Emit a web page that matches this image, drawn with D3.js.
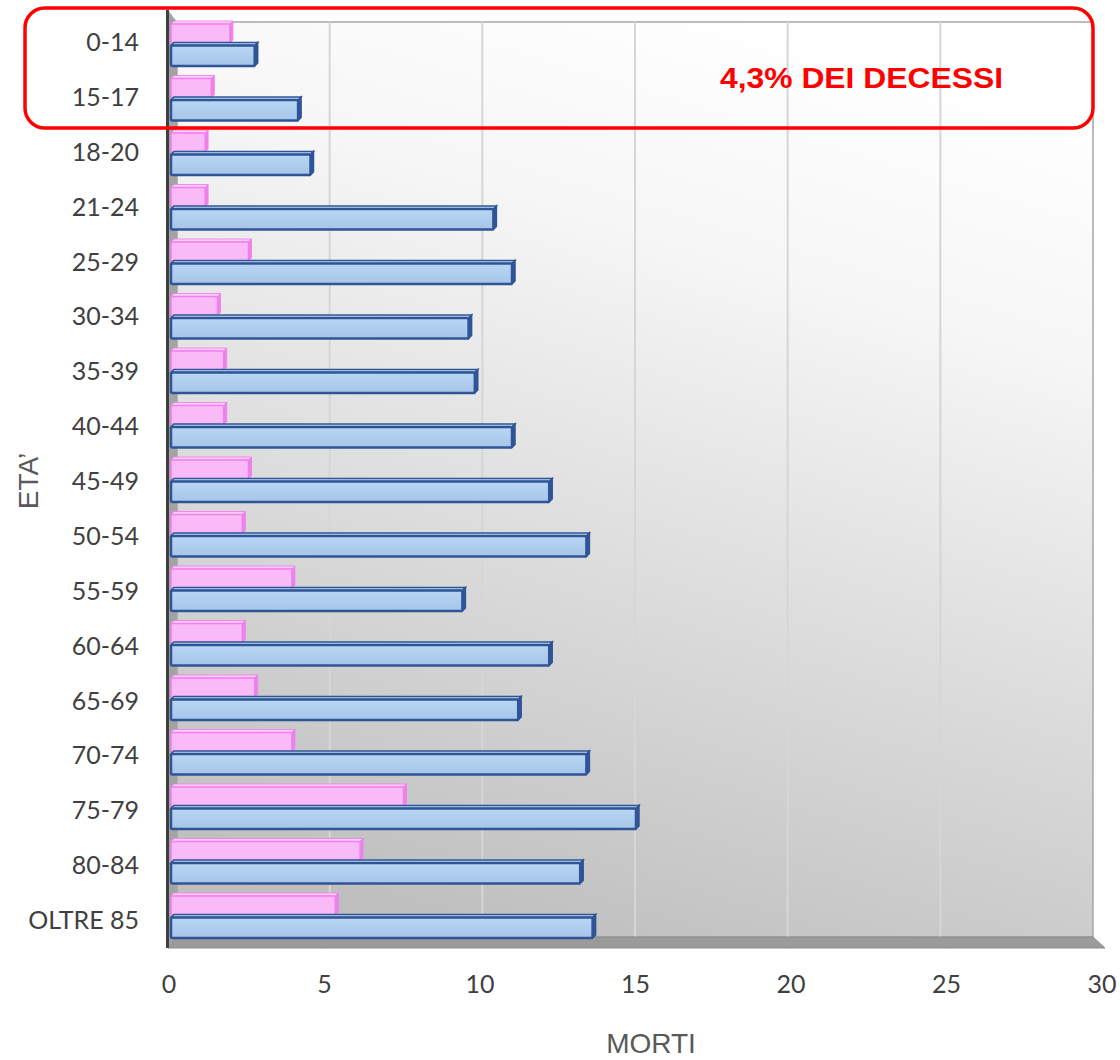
<!DOCTYPE html>
<html>
<head>
<meta charset="utf-8">
<script src="https://cdn.jsdelivr.net/npm/d3@7"></script>
<style>
    body { margin: 0; background: #fff; }
</style>
</head>
<body>
<svg id="chart" width="1120" height="1060"></svg>
<script>
    // age groups (ETA') and deaths (MORTI)
    let categories = ["0-14", "15-17", "18-20", "21-24", "25-29", "30-34", "35-39", "40-44",
        "45-49", "50-54", "55-59", "60-64", "65-69", "70-74", "75-79", "80-84", "OLTRE 85"];
    let femmine = [1.9, 1.3, 1.1, 1.1, 2.5, 1.5, 1.7, 1.7, 2.5, 2.3, 3.9, 2.3, 2.7, 3.9, 7.5, 6.1, 5.3];
    let maschi = [2.7, 4.1, 4.5, 10.4, 11.0, 9.6, 9.8, 11.0, 12.2, 13.4, 9.4, 12.2, 11.2, 13.4, 15.0, 13.2, 13.6];
    let xTicks = [0, 5, 10, 15, 20, 25, 30];
    let note = "4,3% DEI DECESSI";

    let svg = d3.select("#chart");
    let defs = svg.append("defs");

    let grad = defs.append("linearGradient")
        .attr("id", "wall")
        .attr("x1", 0.65).attr("y1", 0)
        .attr("x2", 0.35).attr("y2", 1);
    grad.append("stop").attr("offset", 0).attr("stop-color", "#ffffff");
    grad.append("stop").attr("offset", 0.25).attr("stop-color", "#f6f6f6");
    grad.append("stop").attr("offset", 1).attr("stop-color", "#bfbfbf");

    let blueGrad = defs.append("linearGradient")
        .attr("id", "blueFill")
        .attr("x1", 0).attr("y1", 0).attr("x2", 0).attr("y2", 1);
    blueGrad.append("stop").attr("offset", 0).attr("stop-color", "#b9d6f4");
    blueGrad.append("stop").attr("offset", 1).attr("stop-color", "#a6c5e8");

    // scales: front edge (labels), bars, back wall (gridlines)
    let xFront = d3.scaleLinear().domain([0, 30]).range([170, 1103]);
    let xBar = d3.scaleLinear().domain([0, 30]).range([171, 1101]);
    let xBack = d3.scaleLinear().domain([0, 30]).range([177, 1093]);
    let yBand = d3.scaleBand().domain(categories).range([16.25, 942.75]);
    let yLabel = d3.scalePoint().domain(categories).range([42, 920]);

    let wallTop = 22, wallBottom = 937, floorFront = 948;

    // back wall
    svg.append("rect")
        .attr("x", xBack(0))
        .attr("y", wallTop)
        .attr("width", xBack(30) - xBack(0))
        .attr("height", wallBottom - wallTop)
        .attr("fill", "url(#wall)")
        .attr("stroke", "#a6a6a6")
        .attr("stroke-width", 1.5);

    // gridlines on back wall + slant on the floor
    let grid = svg.append("g");
    grid.selectAll("line.grid")
        .data(xTicks.slice(1, -1))
        .enter()
        .append("line")
        .attr("class", "grid")
        .attr("x1", d => xBack(d)).attr("x2", d => xBack(d))
        .attr("y1", wallTop).attr("y2", wallBottom)
        .attr("stroke", "#d6d6d6")
        .attr("stroke-width", 2);

    // left side wall
    svg.append("polygon")
        .attr("points", [[168, 10], [xBack(0), wallTop], [xBack(0), wallBottom], [168, floorFront]].join(" "))
        .attr("fill", "#a3a3a3");

    // floor
    svg.append("polygon")
        .attr("points", [[168, floorFront], [xBack(0), wallBottom], [xBack(30), wallBottom], [xFront(30) + 2, floorFront]].join(" "))
        .attr("fill", "#9b9b9b")
        .attr("stroke", "#8c8c8c")
        .attr("stroke-width", 1);

    grid.selectAll("line.floor")
        .data(xTicks.slice(0, -1))
        .enter()
        .append("line")
        .attr("class", "floor")
        .attr("x1", d => xBack(d)).attr("x2", d => xFront(d))
        .attr("y1", wallBottom).attr("y2", floorFront)
        .attr("stroke", "#d6d6d6")
        .attr("stroke-width", 1.5);

    svg.append("line")
        .attr("x1", 167.5).attr("x2", 167.5)
        .attr("y1", 10).attr("y2", floorFront)
        .attr("stroke", "#3f3f3f")
        .attr("stroke-width", 3);

    // 3D bar: front rect, top face, right side face
    let depth = 3;
    function drawBar(g, x0, x1, y0, h, fill, topFill, sideFill, stroke, sw) {
        g.append("polygon")
            .attr("points", [[x0, y0 + depth], [x0 + depth, y0], [x1 + depth, y0], [x1, y0 + depth]].join(" "))
            .attr("fill", topFill)
            .attr("stroke", stroke)
            .attr("stroke-width", sw * 0.6);
        g.append("polygon")
            .attr("points", [[x1, y0 + depth], [x1 + depth, y0], [x1 + depth, y0 + h - depth], [x1, y0 + h]].join(" "))
            .attr("fill", sideFill)
            .attr("stroke", stroke)
            .attr("stroke-width", sw * 0.6);
        g.append("rect")
            .attr("x", x0)
            .attr("y", y0 + depth)
            .attr("width", x1 - x0)
            .attr("height", h - depth)
            .attr("rx", 1.5)
            .attr("fill", fill)
            .attr("stroke", stroke)
            .attr("stroke-width", sw);
    }

    let bars = svg.append("g");
    categories.forEach((c, i) => {
        let top = yBand(c) + 4.75;
        let g = bars.append("g");
        drawBar(g, xBar(0), xBar(femmine[i]), top, 22, "#f9baf7", "#fbcff9", "#e985e6", "#f27ff0", 1.5);
        drawBar(g, xBar(0), xBar(maschi[i]), top + 21.5, 23.5, "url(#blueFill)", "#c2dbf5", "#2f5597", "#2f5597", 2.5);
    });

    // category labels
    svg.append("g")
        .selectAll("text")
        .data(categories)
        .enter()
        .append("text")
        .attr("x", 139)
        .attr("y", d => yLabel(d))
        .attr("dy", "0.36em")
        .attr("text-anchor", "end")
        .attr("font-family", "Lato, 'Open Sans', sans-serif")
        .attr("font-size", 25)
        .attr("fill", "#404040")
        .text(d => d);

    // x tick labels
    svg.append("g")
        .selectAll("text")
        .data(xTicks)
        .enter()
        .append("text")
        .attr("x", d => xFront(d) - 1)
        .attr("y", 993)
        .attr("text-anchor", "middle")
        .attr("font-family", "Lato, 'Open Sans', sans-serif")
        .attr("font-size", 25)
        .attr("fill", "#404040")
        .text(d => d);

    // axis titles
    svg.append("text")
        .attr("transform", "translate(38,481) rotate(-90)")
        .attr("text-anchor", "middle")
        .attr("font-family", "'Liberation Sans', Arial, sans-serif")
        .attr("font-size", 28)
        .attr("fill", "#595959")
        .text("ETA\u2019");

    svg.append("text")
        .attr("x", 651)
        .attr("y", 1053)
        .attr("text-anchor", "middle")
        .attr("font-family", "'Liberation Sans', Arial, sans-serif")
        .attr("font-size", 28)
        .attr("fill", "#595959")
        .text("MORTI");

    // red callout round the first two groups
    svg.append("rect")
        .attr("x", 25)
        .attr("y", 8)
        .attr("width", 1068)
        .attr("height", 120)
        .attr("rx", 20)
        .attr("fill", "none")
        .attr("stroke", "#ff0000")
        .attr("stroke-width", 3.5);

    svg.append("text")
        .attr("x", 720)
        .attr("y", 88)
        .attr("font-family", "'Liberation Sans', Arial, sans-serif")
        .attr("font-weight", "bold")
        .attr("font-size", 29)
        .attr("fill", "#ff0000")
        .attr("textLength", 283)
        .attr("lengthAdjust", "spacingAndGlyphs")
        .text(note);
</script>
</body>
</html>
